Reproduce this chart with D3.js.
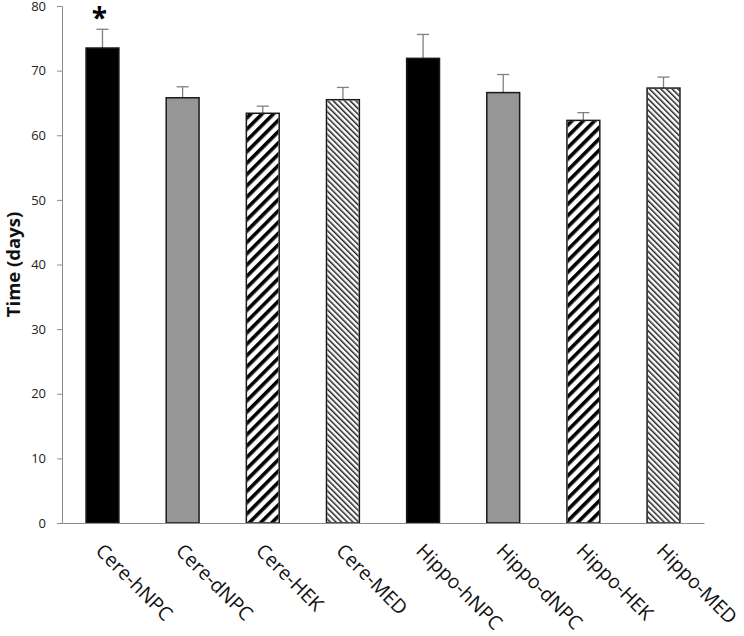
<!DOCTYPE html>
<html>
<head>
<meta charset="utf-8">
<script src="https://cdn.jsdelivr.net/npm/d3@7"></script>
<style>
  body { margin: 0; background: #fff; }
  svg { display: block; }
</style>
</head>
<body>
<svg id="chart" width="744" height="636"></svg>
<script>
const categories = ["Cere-hNPC", "Cere-dNPC", "Cere-HEK", "Cere-MED",
                    "Hippo-hNPC", "Hippo-dNPC", "Hippo-HEK", "Hippo-MED"];
const means = [73.5, 65.8, 63.4, 65.5, 71.9, 66.6, 62.3, 67.3];
const errors = [2.9, 1.7, 1.1, 1.9, 3.7, 2.8, 1.2, 1.7];
const groups = ["hNPC", "dNPC", "HEK", "MED", "hNPC", "dNPC", "HEK", "MED"];
const yTicks = [0, 10, 20, 30, 40, 50, 60, 70, 80];
const starred = ["Cere-hNPC"];

const font = "'Open Sans', sans-serif";
const margin = { top: 6, right: 40, bottom: 113, left: 62 };
const width = 744 - margin.left - margin.right;
const height = 636 - margin.top - margin.bottom;

const svg = d3.select("#chart").attr("font-family", font);

// fill patterns
const defs = svg.append("defs");
defs.append("pattern")
    .attr("id", "hek")
    .attr("patternUnits", "userSpaceOnUse")
    .attr("width", 8).attr("height", 8)
    .attr("patternTransform", "rotate(45)")
    .append("rect")
    .attr("x", 0).attr("y", 0)
    .attr("width", 3.6).attr("height", 8)
    .attr("fill", "#000");
defs.append("pattern")
    .attr("id", "med")
    .attr("patternUnits", "userSpaceOnUse")
    .attr("width", 4).attr("height", 4)
    .attr("patternTransform", "rotate(-45)")
    .append("rect")
    .attr("x", 0).attr("y", 0)
    .attr("width", 1.5).attr("height", 4)
    .attr("fill", "#222");

const fills = { hNPC: "#000", dNPC: "#969696", HEK: "url(#hek)", MED: "url(#med)" };

const g = svg.append("g").attr("transform", `translate(${margin.left},${margin.top})`);

const x = d3.scaleBand().domain(categories).range([0, width]).paddingInner(0.59).paddingOuter(0.3);
const y = d3.scaleLinear().domain([0, 80]).range([height, 0]);

// y axis
const yAxis = g.append("g")
    .call(d3.axisLeft(y).tickValues(yTicks).tickSize(5).tickPadding(11))
    .attr("font-family", font);
yAxis.select(".domain").attr("stroke", "#8c8c8c");
yAxis.selectAll(".tick line").attr("stroke", "#8c8c8c");
yAxis.selectAll(".tick text").attr("font-size", 13).attr("fill", "#222");

g.append("text")
    .attr("transform", `translate(${-42},${height / 2}) rotate(-90)`)
    .attr("text-anchor", "middle")
    .attr("font-size", 18.5)
    .attr("font-weight", "bold")
    .attr("fill", "#111")
    .text("Time (days)");

const data = categories.map((c, i) => ({ name: c, mean: means[i], err: errors[i], group: groups[i] }));

// error bars (upper only)
const eb = g.append("g").selectAll("g").data(data).join("g");
eb.append("line")
    .attr("x1", d => x(d.name) + x.bandwidth() / 2)
    .attr("x2", d => x(d.name) + x.bandwidth() / 2)
    .attr("y1", d => y(d.mean))
    .attr("y2", d => y(d.mean + d.err))
    .attr("stroke", "#808080").attr("stroke-width", 1.3);
eb.append("line")
    .attr("x1", d => x(d.name) + x.bandwidth() / 2 - 6)
    .attr("x2", d => x(d.name) + x.bandwidth() / 2 + 6)
    .attr("y1", d => y(d.mean + d.err))
    .attr("y2", d => y(d.mean + d.err))
    .attr("stroke", "#808080").attr("stroke-width", 1.3);

// bars
g.append("g").selectAll("rect").data(data).join("rect")
    .attr("x", d => x(d.name))
    .attr("y", d => y(d.mean))
    .attr("width", x.bandwidth())
    .attr("height", d => y(0) - y(d.mean))
    .attr("fill", d => d.group === "HEK" || d.group === "MED" ? "#fff" : fills[d.group])
    .attr("stroke", "#1a1a1a").attr("stroke-width", 1.5);
g.append("g").selectAll("rect").data(data.filter(d => d.group === "HEK" || d.group === "MED")).join("rect")
    .attr("x", d => x(d.name) + 0.75)
    .attr("y", d => y(d.mean) + 0.75)
    .attr("width", x.bandwidth() - 1.5)
    .attr("height", d => y(0) - y(d.mean) - 1.5)
    .attr("fill", d => fills[d.group]);

// significance marker
g.append("g").selectAll("text").data(data.filter(d => starred.includes(d.name))).join("text")
    .attr("x", d => x(d.name) + x.bandwidth() / 2 - 3)
    .attr("y", d => y(d.mean + d.err) - 1)
    .attr("text-anchor", "middle")
    .attr("font-size", 28)
    .attr("font-weight", "bold")
    .text("*");

// x axis
const xAxis = g.append("g")
    .attr("transform", `translate(0,${height})`)
    .call(d3.axisBottom(x).tickSize(0).tickPadding(0))
    .attr("font-family", font);
xAxis.select(".domain").attr("stroke", "#8c8c8c");
xAxis.selectAll(".tick text")
    .attr("font-size", 19.5)
    .attr("fill", "#111")
    .attr("text-anchor", "start")
    .attr("dy", null)
    .attr("transform", "translate(-8,29) rotate(45)");
</script>
</body>
</html>
